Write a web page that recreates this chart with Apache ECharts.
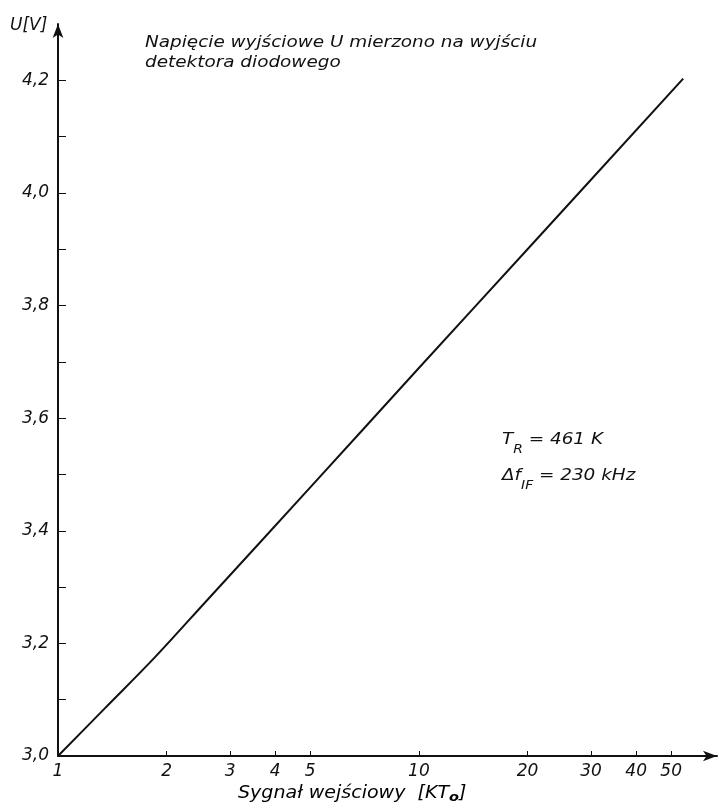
<!DOCTYPE html>
<html>
<head>
<meta charset="utf-8">
<script src="https://cdn.jsdelivr.net/npm/echarts@6/dist/echarts.min.js"></script>
<style>html,body{margin:0;padding:0;background:#fff}#c{width:721px;height:805px}</style>
</head>
<body>
<div id="c"></div>
<script>
// Data (x: input signal in kT0, log scale; y: output voltage U [V])
const signalKT0 = [1, 1.35, 1.86, 2.6, 5, 10, 20, 54];
const voltageU  = [3.0, 3.085, 3.176, 3.278, 3.477, 3.689, 3.90, 4.203];
const xTickValues = [1, 2, 3, 4, 5, 10, 20, 30, 40, 50];
const yLabelValues = [3.0, 3.2, 3.4, 3.6, 3.8, 4.0, 4.2];
const yTickValues = [3.0, 3.1, 3.2, 3.3, 3.4, 3.5, 3.6, 3.7, 3.8, 3.9, 4.0, 4.1, 4.2];

const FONT = 'DejaVu Sans';
const ink = '#111';
const chart = echarts.init(document.getElementById('c'), null, {renderer: 'canvas'});
const lineData = signalKT0.map((x, i) => [x, voltageU[i]]);

chart.setOption({
  backgroundColor: '#fff',
  animation: false,
  grid: {left: 58, right: 4, top: 24, bottom: 49, containLabel: false},
  xAxis: {
    type: 'log', logBase: 10, min: 1, max: 67,
    axisLine: {show: true, lineStyle: {color: ink, width: 2}, symbol: ['none', 'arrow'], symbolSize: [8, 14]},
    axisTick: {show: true, inside: true, length: 5, lineStyle: {color: ink, width: 1}, customValues: xTickValues},
    axisLabel: {show: true, customValues: xTickValues, margin: 7, color: ink, fontFamily: FONT, fontStyle: 'italic', fontSize: 17,
      formatter: v => String(Math.round(v))},
    splitLine: {show: false},
    minorTick: {show: false}
  },
  yAxis: {
    type: 'value', min: 3.0, max: 4.3,
    axisLine: {show: true, lineStyle: {color: ink, width: 2}, symbol: ['none', 'arrow'], symbolSize: [8, 14]},
    axisTick: {show: true, inside: true, length: 8, lineStyle: {color: ink, width: 1}, customValues: yTickValues},
    axisLabel: {show: true, customValues: yLabelValues, margin: 9, color: ink, fontFamily: FONT, fontStyle: 'italic', fontSize: 17,
      formatter: v => v.toFixed(1).replace('.', ',')},
    splitLine: {show: false}
  },
  series: [{
    type: 'line',
    data: lineData,
    smooth: 0.35,
    showSymbol: false,
    lineStyle: {color: ink, width: 2}
  }],
  graphic: [
    {type: 'text', left: 10, top: 17, style: {text: 'U[V]', fill: ink, font: 'italic 17px "DejaVu Sans"'}},
    {type: 'text', x: 145, y: 33, scaleX: 1.15, style: {text: 'Napięcie wyjściowe U mierzono na wyjściu\ndetektora diodowego', fill: ink, font: 'italic 16px "DejaVu Sans"', lineHeight: 20}},
    {type: 'text', x: 502, y: 412, scaleX: 1.15, style: {
      text: '{m|T}{s|R}{m| = 461 K}\n{m|Δf}{s|IF}{m| = 230 kHz}',
      fill: ink, lineHeight: 36,
      rich: {
        m: {fontFamily: FONT, fontStyle: 'italic', fontSize: 16, color: ink, verticalAlign: 'bottom'},
        s: {fontFamily: FONT, fontStyle: 'italic', fontSize: 12, color: ink, verticalAlign: 'bottom', padding: [0, 0, -8, 0]}
      }}},
    {type: 'text', x: 238, y: 783, scaleX: 1.12, style: {
      text: '{m|Sygnał wejściowy  [KT}{s|o}{m|]}',
      rich: {
        m: {fontFamily: FONT, fontStyle: 'italic', fontSize: 17, color: ink},
        s: {fontFamily: FONT, fontStyle: 'italic', fontWeight: 'bold', fontSize: 13, color: ink, padding: [8, 0, 0, 0]}
      }}}
  ]
});
</script>
</body>
</html>
